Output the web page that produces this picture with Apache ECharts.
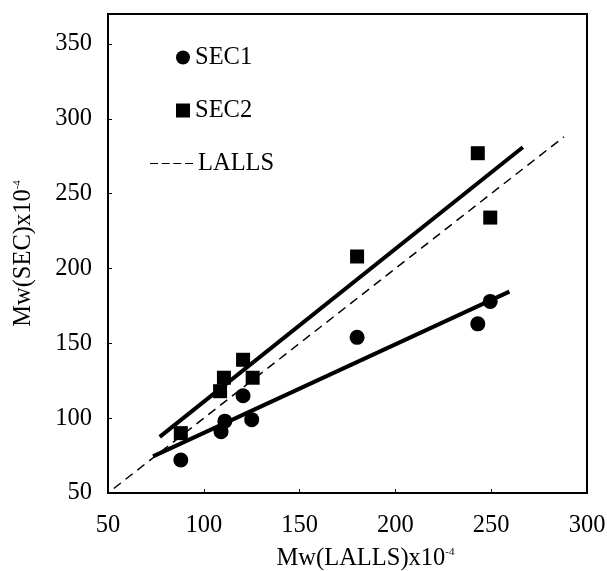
<!DOCTYPE html>
<html>
<head>
<meta charset="utf-8">
<script src="https://cdn.jsdelivr.net/npm/echarts@6/dist/echarts.min.js"></script>
<style>html,body{margin:0;padding:0;background:#fff}#c{width:607px;height:571px}</style>
</head>
<body>
<div id="c"></div>
<script>
// Data
var sec1X = [88, 109, 111, 120.5, 125, 180, 243, 249.5];
var sec1Y = [72, 91, 98, 115, 99, 154, 163, 178];
var sec2X = [88, 108.5, 110.5, 120.5, 125.5, 180, 243, 249.5];
var sec2Y = [90, 118, 127, 139, 127, 208, 277, 234];
// regression / reference lines (end points)
var sec1FitX = [73.5, 259.5];
var sec1FitY = [74.5, 184.5];
var sec2FitX = [77, 266.5];
var sec2FitY = [87.5, 281];
var lallsX = [53, 288];
var lallsY = [53, 288];
// axis ticks
var xTicks = [50, 100, 150, 200, 250, 300];
var yTicks = [50, 100, 150, 200, 250, 300, 350];

function zip(a, b) { return a.map(function (v, i) { return [v, b[i]]; }); }

var FONT = '"Liberation Serif", "Times New Roman", serif';
var chart = echarts.init(document.getElementById('c'), null, { renderer: 'canvas' });
var supStyle = { fontFamily: FONT, fontSize: 11, color: '#000', padding: [0, 0, 12, 0] };
var dashIcon = 'path://M0,0H8V1H0Z M11.7,0H19.7V1H11.7Z M23.3,0H31.3V1H23.3Z M35,0H43V1H35Z';
var legText = { fontFamily: FONT, fontSize: 24.5, color: '#000' };
chart.setOption({
  animation: false,
  backgroundColor: '#fff',
  textStyle: { fontFamily: FONT, color: '#000' },
  grid: { left: 108, right: 20, top: 14, bottom: 78, show: true, borderColor: '#000', borderWidth: 2,
    containLabel: false, outerBoundsMode: 'none' },
  legend: [
    { data: ['SEC1'], left: 176, top: 45, padding: 0, itemWidth: 14, itemHeight: 14, selectedMode: false, textStyle: legText },
    { data: ['SEC2'], left: 176, top: 98, padding: 0, itemWidth: 14, itemHeight: 14, selectedMode: false, textStyle: legText },
    { data: [{ name: 'LALLS', icon: dashIcon }], left: 150, top: 151, padding: 0, itemWidth: 43, itemHeight: 1.5,
      selectedMode: false, itemStyle: { color: '#000' }, textStyle: legText }
  ],
  xAxis: {
    type: 'value', min: xTicks[0], max: xTicks[xTicks.length - 1], interval: 50,
    splitLine: { show: false },
    axisLine: { lineStyle: { color: '#000', width: 2 } },
    axisTick: { inside: true, length: 4, lineStyle: { color: '#000', width: 1 } },
    axisLabel: { fontFamily: FONT, fontSize: 24.5, color: '#000', margin: 20 },
    name: 'Mw(LALLS)x10{sup|-4}', nameLocation: 'middle', nameGap: 53,
    nameTextStyle: { fontFamily: FONT, fontSize: 24.5, color: '#000', padding: [0, 0, 0, 36],
      rich: { sup: supStyle } }
  },
  yAxis: {
    type: 'value', min: yTicks[0], max: 370, interval: 50,
    splitLine: { show: false },
    axisLine: { lineStyle: { color: '#000', width: 2 } },
    axisTick: { inside: true, length: 4, lineStyle: { color: '#000', width: 1 } },
    axisLabel: { fontFamily: FONT, fontSize: 24.5, color: '#000', margin: 16, showMaxLabel: false,
      formatter: function (v) { return yTicks.indexOf(v) >= 0 ? String(v) : ''; } },
    name: 'Mw(SEC)x10{sup|-4}', nameLocation: 'middle', nameGap: 72, nameRotate: 90,
    nameTextStyle: { fontFamily: FONT, fontSize: 24.5, color: '#000', rich: { sup: supStyle } }
  },
  series: [
    { name: 'LALLS', type: 'line', data: zip(lallsX, lallsY), symbol: 'none', silent: true,
      lineStyle: { color: '#000', width: 1.5, type: [9, 6] }, itemStyle: { color: '#000' } },
    { name: 'fit1', type: 'line', data: zip(sec1FitX, sec1FitY), symbol: 'none', silent: true,
      lineStyle: { color: '#000', width: 4 } },
    { name: 'fit2', type: 'line', data: zip(sec2FitX, sec2FitY), symbol: 'none', silent: true,
      lineStyle: { color: '#000', width: 4 } },
    { name: 'SEC1', type: 'scatter', data: zip(sec1X, sec1Y), symbol: 'circle', symbolSize: 15,
      itemStyle: { color: '#000', opacity: 1 } },
    { name: 'SEC2', type: 'scatter', data: zip(sec2X, sec2Y), symbol: 'rect', symbolSize: 14,
      itemStyle: { color: '#000', opacity: 1 } }
  ]
});
</script>
</body>
</html>
